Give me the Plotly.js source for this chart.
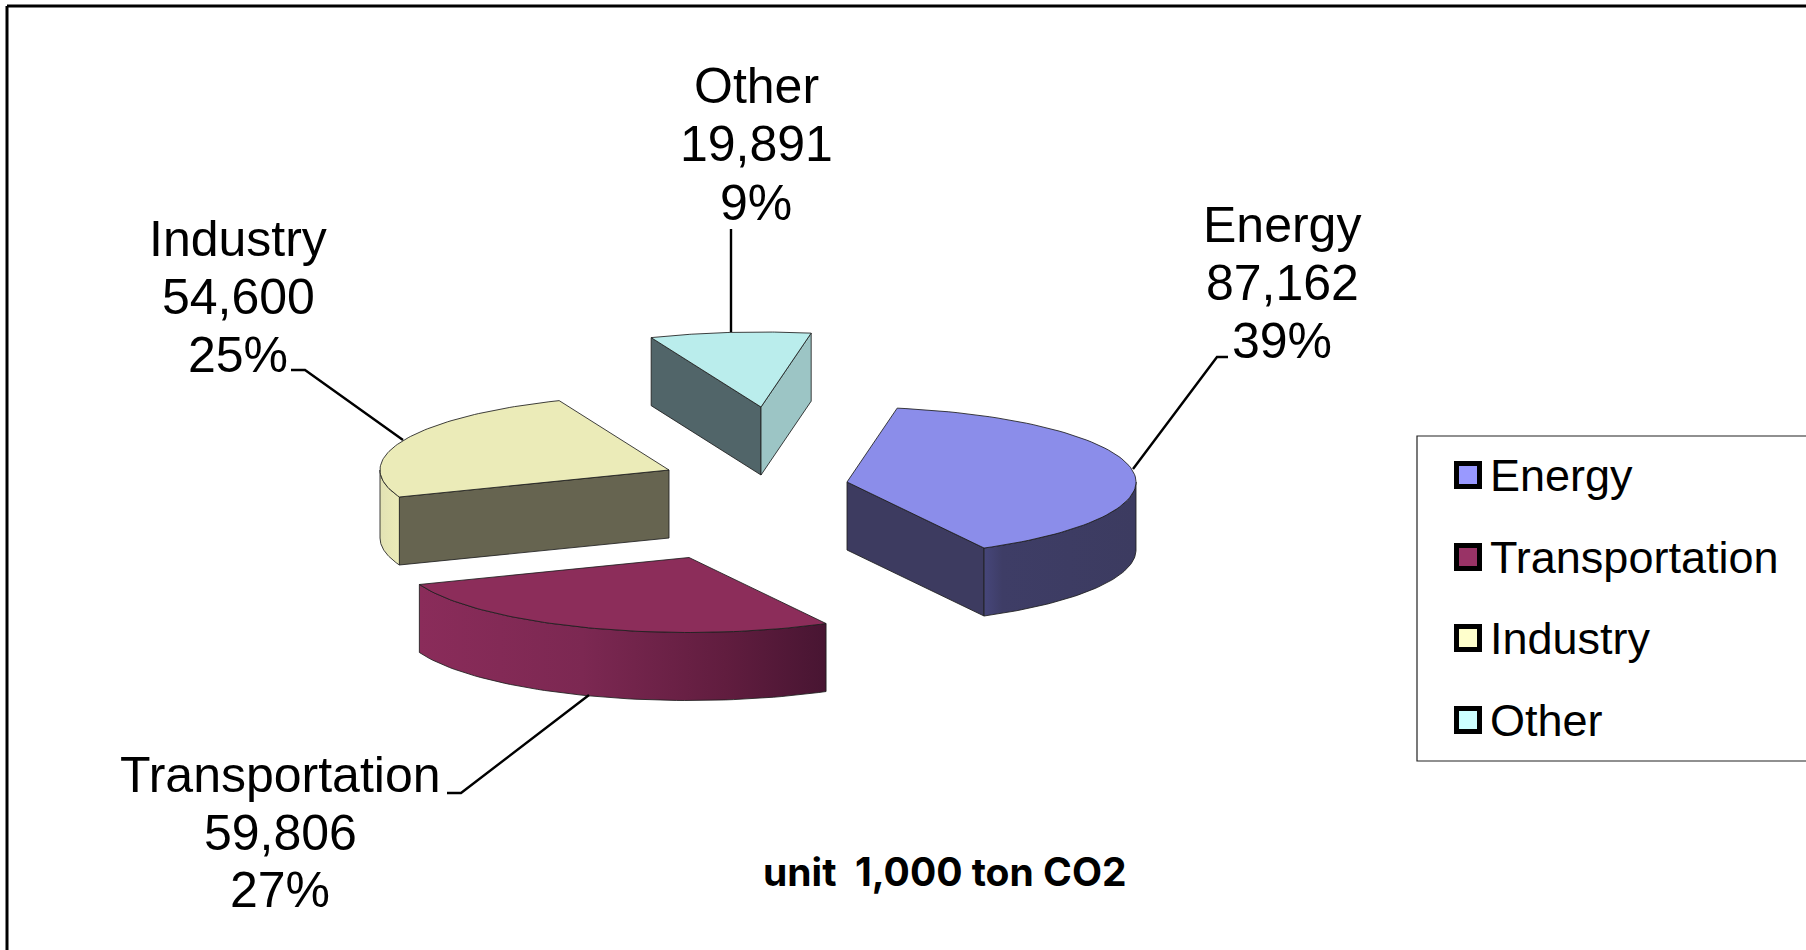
<!DOCTYPE html>
<html><head><meta charset="utf-8">
<script src="https://cdn.plot.ly/plotly-3.0.1.min.js"></script>
<style>html,body{margin:0;padding:0;background:#fff;overflow:hidden}#c{width:1806px;height:950px}</style>
</head><body><div id="c"></div>
<script>
// ---- data ----
const categories = ['Energy', 'Transportation', 'Industry', 'Other'];
const values = [87162, 59806, 54600, 19891];
const unitNote = 'unit  1,000 ton CO2';

// ---- projection + style config ----
const RX = 289, RY = 75, DEPTH = 68, START = 10;
const origins = [[847,482],[689,557.5],[669,470],[761,407]];
const topColors = ['#8B8DEA','#8C2D5A','#EBEBB8','#BAEDEC'];
const startFace = ['#3D3B60','#3D3B60','#666450','#516569'];
const endFace = ['#3D3B60','#3D3B60','#666450','#9CC5C5'];
const arcGrad = [
  [[0,'#46467A'],[0.12,'#3E3D66'],[1,'#3C3B60']],
  [[0,'#8A2C5A'],[0.4,'#7C2852'],[0.75,'#611D3F'],[1,'#481532']],
  [[0,'#E2E2B4'],[1,'#EBEBB8']],
  [[0,'#9CC5C5'],[1,'#9CC5C5']]
];
const legendColors = ['#9999FF','#993366','#FFFFCC','#CCFFFF'];
const labelPos = [[1282,[225,283,341]],[280,[775,833,890]],[238,[239,297,355]],[756,[86,144,203]]];
const leaders = [
  [[1133,1217,1228],[469,357,357]],
  [[589,461,447],[695,793,793]],
  [[403,305,291],[440,370,370]],
  [[731,731],[332,229]]
];
const legendY = [475,557,638,720];
const EDGE = {color:'rgba(30,30,30,0.85)', width:1};
const FONT = 'Liberation Sans, Arial, sans-serif';

const total = values.reduce((a,b)=>a+b,0);
const rad = d => d*Math.PI/180;
const px = (o,t) => o[0] + RX*Math.sin(rad(t));
const py = (o,t,dz=0) => o[1] - RY*Math.cos(rad(t)) + dz;

const traces = [];
function poly(xs, ys, fill, grad) {
  const t = {type:'scatter', mode:'lines', x:[...xs, xs[0]], y:[...ys, ys[0]], fill:'toself',
    fillcolor:fill, line:EDGE, hoverinfo:'skip', showlegend:false};
  if (grad) t.fillgradient = {type:'horizontal', colorscale:grad};
  traces.push(t);
}
let cursor = START;
const spans = values.map(v => { const s = cursor; cursor += v/total*360; return [s, cursor]; });
[3,2,0,1].forEach(i => {
  const o = origins[i], [a,b] = spans[i];
  const tsin = d => Math.sin(rad(d));
  if (tsin(a) < 0) poly([o[0],px(o,a),px(o,a),o[0]],[o[1],py(o,a),py(o,a,DEPTH),o[1]+DEPTH], startFace[i]);
  if (tsin(b) > 0) poly([o[0],px(o,b),px(o,b),o[0]],[o[1],py(o,b),py(o,b,DEPTH),o[1]+DEPTH], endFace[i]);
  const lo = Math.max(a,90), hi = Math.min(b,270);
  if (hi > lo) {
    const ts = []; for (let k=0;k<=60;k++) ts.push(lo+(hi-lo)*k/60);
    const rev = [...ts].reverse();
    poly([...ts.map(t=>px(o,t)),...rev.map(t=>px(o,t))],
         [...ts.map(t=>py(o,t)),...rev.map(t=>py(o,t,DEPTH))], arcGrad[i][0][1], arcGrad[i]);
  }
  const ts = []; for (let k=0;k<=80;k++) ts.push(a+(b-a)*k/80);
  poly([o[0],...ts.map(t=>px(o,t))],[o[1],...ts.map(t=>py(o,t))], topColors[i]);
});
leaders.forEach(l => traces.push({type:'scatter',mode:'lines',x:l[0],y:l[1],
  line:{color:'#000',width:2.4},hoverinfo:'skip',showlegend:false}));
traces.push({type:'scatter',mode:'markers',x:categories.map(()=>1468),y:legendY,
  marker:{symbol:'square',size:23,color:legendColors,line:{color:'#000',width:5}},
  hoverinfo:'skip',showlegend:false});

const annotations = [];
categories.forEach((c,i) => {
  const lines = [c, values[i].toLocaleString('en-US'), Math.round(values[i]/total*100)+'%'];
  lines.forEach((s,j) => annotations.push({xref:'x',yref:'y',x:labelPos[i][0],y:labelPos[i][1][j],
    text:s,showarrow:false,xanchor:'center',yanchor:'middle',
    font:{family:FONT,size:50,color:'#000'}}));
  annotations.push({xref:'x',yref:'y',x:1488,y:legendY[i],text:c,showarrow:false,xanchor:'left',yanchor:'middle',
    font:{family:FONT,size:45,color:'#000'}});
});
annotations.push({xref:'x',yref:'y',x:945,y:871,text:unitNote,showarrow:false,xanchor:'center',yanchor:'middle',
  font:{family:'Inter, Liberation Sans, sans-serif',size:39,color:'#000',weight:700}});

const layout = {
  width:1806,height:950,margin:{l:0,r:0,t:0,b:0},
  paper_bgcolor:'#fff',plot_bgcolor:'#fff',showlegend:false,
  xaxis:{range:[0,1806],visible:false,fixedrange:true},
  yaxis:{range:[950,0],visible:false,fixedrange:true},
  annotations,
  shapes:[
    {type:'line',xref:'x',yref:'y',x0:7,y0:6,x1:1806,y1:6,line:{color:'#000',width:3}},
    {type:'line',xref:'x',yref:'y',x0:7,y0:6,x1:7,y1:950,line:{color:'#000',width:3}},
    {type:'rect',xref:'x',yref:'y',x0:1417,y0:436,x1:1830,y1:761,line:{color:'#222',width:1.2},fillcolor:'rgba(0,0,0,0)',layer:'below'}
  ]
};
Plotly.newPlot('c',traces,layout,{displayModeBar:false,staticPlot:true});
</script></body></html>
